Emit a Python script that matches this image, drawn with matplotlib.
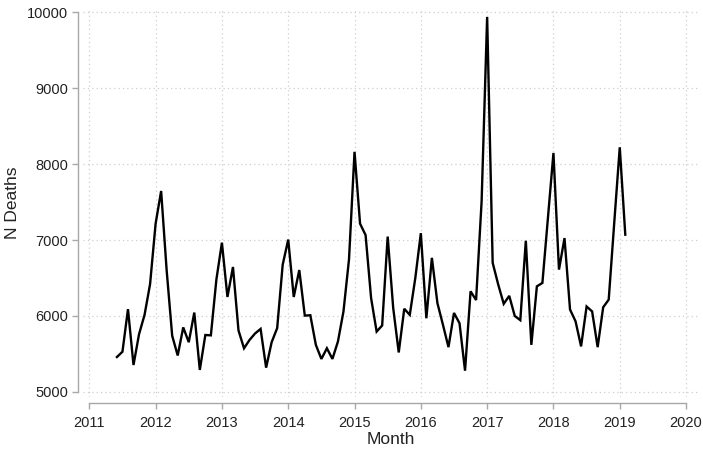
import numpy as np
import pandas as pd
import matplotlib
matplotlib.use("Agg")
import matplotlib.pyplot as plt

plt.rcParams['font.family'] = ['Liberation Sans', 'DejaVu Sans']

# Monthly deaths, June 2011 .. February 2019
deaths_2011 = [5460, 5530, 6090, 5355, 5760, 6015, 6420]
deaths_2012 = [7215, 7645, 6600, 5740, 5480, 5850, 5655, 6045, 5290, 5750, 5745, 6480]
deaths_2013 = [6965, 6250, 6645, 5810, 5575, 5685, 5770, 5830, 5320, 5655, 5840, 6675]
deaths_2014 = [7005, 6250, 6605, 6005, 6010, 5620, 5435, 5575, 5435, 5665, 6060, 6745]
deaths_2015 = [8160, 7215, 7065, 6235, 5795, 5875, 7045, 6105, 5520, 6095, 6015, 6500]
deaths_2016 = [7090, 5970, 6765, 6170, 5885, 5590, 6040, 5905, 5280, 6325, 6210, 7510]
deaths_2017 = [9935, 6700, 6415, 6160, 6265, 6000, 5945, 6990, 5620, 6390, 6435, 7290]
deaths_2018 = [8145, 6610, 7025, 6085, 5930, 5600, 6125, 6060, 5590, 6115, 6215, 7225]
deaths_2019 = [8220, 7070]

START_MONTH = "2011-06"
year_ticks = list(range(2011, 2021))
death_ticks = [5000, 6000, 7000, 8000, 9000, 10000]

deaths = (deaths_2011 + deaths_2012 + deaths_2013 + deaths_2014 + deaths_2015
          + deaths_2016 + deaths_2017 + deaths_2018 + deaths_2019)
months = pd.date_range(START_MONTH, periods=len(deaths), freq="MS")
x = months.year + (months.month - 1) / 12.0

fig = plt.figure(figsize=(7.03, 4.49), dpi=100)
ax = fig.add_axes([83 / 703, 1 - 397 / 449, 615 / 703, 389 / 449])

ax.plot(x, deaths, color="black", linewidth=1.7, solid_joinstyle="miter", zorder=3)

ax.set_xlim(2010.905, 2020.18)
ax.set_ylim(4934, 10053)
ax.set_xticks(year_ticks)
ax.set_yticks(death_ticks)

# dotted light grid
ax.grid(True, color="#cfcfcf", linestyle=(0, (1, 2.5)), linewidth=0.9)
ax.set_axisbelow(True)

# Stata-like detached axes
for side in ["top", "right"]:
    ax.spines[side].set_visible(False)
ax.spines["left"].set_position(("outward", 3.4))
ax.spines["bottom"].set_position(("outward", 4.3))
ax.spines["left"].set_bounds(5000, 10000)
ax.spines["bottom"].set_bounds(2011, 2020)
for side in ["left", "bottom"]:
    ax.spines[side].set_color("#a8a8a8")
    ax.spines[side].set_linewidth(1.0)

ax.tick_params(axis="both", colors="#a8a8a8", length=4.5, width=1.0,
               labelcolor="#222222", labelsize=10.5)
ax.tick_params(axis="y", pad=3)
ax.tick_params(axis="x", pad=5)

ax.set_xlabel("Month", fontsize=12.5, color="#222222", labelpad=1)
ax.set_ylabel("N Deaths", fontsize=12.5, color="#222222", labelpad=5)

fig.savefig("out.png", dpi=100)
